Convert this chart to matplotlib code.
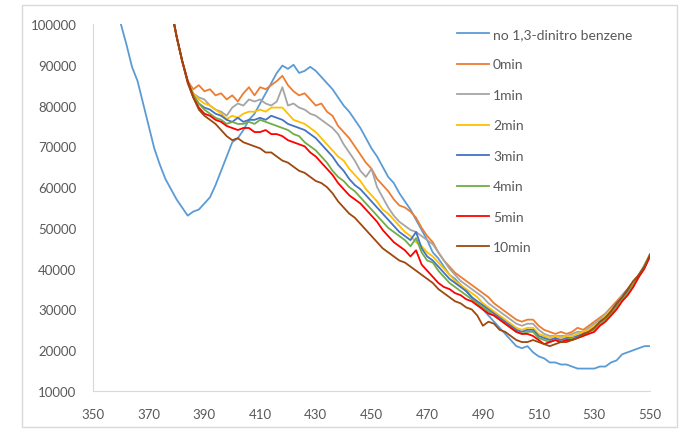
import numpy as np
import matplotlib.pyplot as plt
from matplotlib.patches import Rectangle

# wavelength grids (nm)
wl_ref = np.arange(360, 551, 2)
wl = np.arange(378, 551, 2)

# intensity in thousands
no_dnb = [100, 95, 89.5, 86, 80.5, 75, 69.5, 65.5, 62, 59.5,
          57, 55, 53, 54, 54.5, 56, 57.5, 60.5, 64, 67.5,
          71, 72, 74, 76.5, 78, 80.5, 83, 85.5, 88, 89.8,
          89, 90, 88, 88.5, 89.5, 88.5, 87, 85.5, 84, 82,
          80, 78.5, 76.5, 74.5, 72, 69.5, 67.5, 65, 62.5, 61,
          58.5, 56.5, 54.5, 52, 49.5, 47, 44, 42.5, 40.5, 38.5,
          37.5, 36, 34.5, 33, 31.5, 30, 28.5, 27, 25.5, 24,
          22.5, 21, 20.5, 21, 19.5, 18.5, 18, 17, 17, 16.5,
          16.5, 16, 15.5, 15.5, 15.5, 15.5, 16, 16, 17, 17.5,
          19, 19.5, 20, 20.5, 21, 21]

min0 = [104, 97, 91, 86, 84, 85, 83.5, 84, 82.5, 83,
        81.5, 82.5, 81, 83, 84.5, 82.5, 84.5, 84, 85, 86,
        87.3, 85, 83.5, 82.5, 83, 81.5, 80, 80.5, 78.5, 77.5,
        75, 73.5, 72, 70, 68, 66, 64.5, 62, 60.5, 59,
        57, 55.5, 55, 54, 52.5, 50, 48, 46.5, 44, 42,
        40.5, 39, 38, 37, 36, 35, 34, 33, 31.5, 30.5,
        29.5, 28.5, 27.5, 27, 27.5, 27.5, 26, 25, 24.5, 24,
        24.5, 24, 24.5, 25.5, 25, 26, 27, 28, 29, 30.5,
        32, 33.5, 35, 36.5, 38.5, 40.5, 43.5]

min1 = [104, 97, 91, 86, 83, 82, 81.5, 80, 79, 78.5,
        77.5, 79.5, 80.5, 80, 81.5, 81, 81.5, 80.5, 80, 81,
        84.5, 80, 80.5, 79.5, 79, 78, 77.5, 76.5, 75.5, 74.5,
        73, 70.5, 68.5, 66.5, 64, 62.5, 64.5, 60, 57.5, 55,
        53, 51.5, 50.5, 49.5, 49, 48, 47, 46, 44, 42,
        40, 38.5, 37, 36, 35, 34, 33, 31.5, 30.5, 29.5,
        28.5, 27.5, 26.5, 26, 26.5, 26.5, 25, 24, 23.5, 23.5,
        23.5, 23.5, 24, 24.5, 24.5, 25.5, 26.5, 27.5, 29, 30,
        31.5, 33.5, 35, 36.5, 38.5, 41, 43.5]

min2 = [104, 97, 91, 86, 83, 81.5, 80.5, 80, 79, 78,
        76.7, 77.5, 77, 78, 78.5, 78.5, 79, 78.5, 79.5, 79.5,
        79.5, 78, 76.5, 76, 75.5, 74.5, 73.5, 72, 70.5, 69,
        67.5, 66.5, 64.5, 63, 61.5, 59.5, 58, 56.5, 54.5, 53.5,
        52, 50.5, 49, 48, 46.5, 45.5, 44, 43, 41.5, 40,
        38.5, 37, 36, 35, 34, 33, 31.5, 30.5, 29.5, 28.5,
        27.5, 26.5, 25.5, 25, 25.5, 25.5, 24, 23.5, 23, 23.5,
        23, 23.5, 23.5, 24, 24.5, 25, 26, 27, 28.5, 30,
        31, 33, 34.5, 36.5, 38.5, 40.5, 43.5]

min3 = [104, 97, 91, 86, 82.5, 80.5, 79.5, 79, 78, 77.5,
        76.5, 76, 77, 76, 76.5, 76.5, 77, 76.5, 77.5, 77,
        76.5, 75.5, 75, 74.5, 74, 73, 72, 70.5, 69, 67.5,
        65.5, 64, 62, 60.5, 59.5, 58, 56.5, 55, 53.5, 52,
        50.5, 49, 48, 47, 49, 45, 43, 42, 40.5, 39,
        37.5, 36.5, 35.5, 34.5, 33, 32, 31, 30, 29, 28,
        27, 26, 25, 24.5, 25, 25, 23.5, 23, 22.5, 23,
        22.5, 23, 23, 23.5, 24, 24.5, 25.5, 26.5, 28, 29.5,
        31, 32.5, 34.5, 36, 38.5, 40.5, 43]

min4 = [104, 97, 91, 86, 82.5, 80.5, 79, 78, 77, 76.5,
        75.5, 76, 75.5, 75.5, 76, 75.5, 76.5, 76, 75.5, 75,
        74.5, 74, 73, 72.5, 71, 70, 69, 67.5, 66, 64,
        62.5, 61.5, 60, 59, 57.5, 56, 54.5, 53, 51.5, 50,
        49, 48, 47, 45.5, 47.5, 44, 42, 41.5, 39.5, 38,
        36.5, 35.5, 34.5, 33.5, 32.5, 31.5, 30.5, 29.5, 28.5, 27.5,
        26.5, 25.5, 24.5, 24, 24.5, 24.5, 23, 22.5, 22, 22.5,
        22, 22.5, 23, 23, 23.5, 24.5, 25, 26.5, 27.5, 29,
        30.5, 32.5, 34, 36, 38, 40.5, 43]

min5 = [104, 97, 91, 86, 82, 79.5, 78, 77.5, 76.5, 76,
        75, 74.5, 74, 74.5, 74.5, 73.5, 73.5, 74, 73, 73,
        72.5, 71.5, 71, 70.5, 70, 68.5, 67.5, 66, 64.5, 63,
        61, 59.5, 58, 57, 56, 54.5, 53, 51.5, 49.5, 48,
        46.5, 45.5, 44.5, 43, 44.5, 41, 39.5, 38, 36.5, 35.5,
        35, 34, 33.5, 32.5, 32, 31, 30, 29, 28.5, 27.5,
        26.5, 25.5, 24.5, 24, 24, 23.5, 22.5, 21.5, 22, 22.5,
        22, 22.5, 22.5, 23, 23.5, 24, 24.5, 26, 27, 28.5,
        30, 32, 33.5, 35.5, 38, 40, 43]

min10 = [104, 97, 91, 85.5, 82, 79, 77.5, 76.5, 75.5, 74,
         72.5, 71.5, 72, 71, 70.5, 70, 69.5, 68.5, 68.5, 67.5,
         66.5, 66, 65, 64, 63.5, 62.5, 61.5, 61, 60, 58.5,
         56.5, 55, 53.5, 52.5, 51, 49.5, 48, 46.5, 45, 44,
         43, 42, 41.5, 40.5, 39.5, 38.5, 37.5, 36.5, 35, 34,
         33, 32, 31.5, 30.5, 30, 28.5, 26, 27, 26.5, 25,
         24.5, 23.5, 22.5, 22, 22, 22.5, 22, 21.5, 21, 21.5,
         22, 22, 22.5, 23, 24, 24.5, 25.5, 27, 28, 29.5,
         31.5, 33, 35, 37, 38.5, 40.5, 43.5]

labels = ['no 1,3-dinitro benzene', '0min', '1min', '2min', '3min',
          '4min', '5min', '10min']
colors = ['#5B9BD5', '#ED7D31', '#A5A5A5', '#FFC000', '#4472C4',
          '#70AD47', '#FF0000', '#9E480E']

plt.rcParams['font.family'] = ['Lato', 'DejaVu Sans']
txt = '#595959'

fig = plt.figure(figsize=(6.82, 4.31), dpi=100)
ax = fig.add_axes([93/682, 1 - 392/431, 557/682, 367/431])

# outer chart frame
fig.patches.append(Rectangle((22/682, 1 - 428/431), 655/682, 422/431,
                             transform=fig.transFigure, fill=False,
                             edgecolor='#D9D9D9', linewidth=1))

series = [no_dnb, min0, min1, min2, min3, min4, min5, min10]
for i, ys in enumerate(series):
    xs = wl_ref if i == 0 else wl
    ax.plot(xs, np.array(ys) * 1000, color=colors[i], lw=1.3, label=labels[i])

ax.set_xlim(350, 550)
ax.set_ylim(10000, 100000)
ax.set_xticks(range(350, 551, 20))
ax.set_yticks(range(10000, 100001, 10000))
ax.tick_params(length=0, labelsize=9.5, colors=txt, pad=12)
for s in ['top', 'right']:
    ax.spines[s].set_visible(False)
for s in ['left', 'bottom']:
    ax.spines[s].set_color('#D9D9D9')

ax.legend(loc='upper left', bbox_to_anchor=(457/682, 1 - 29/431),
          bbox_transform=fig.transFigure, frameon=False, fontsize=10,
          handlelength=2.3, handletextpad=0.3, labelspacing=1.33,
          borderpad=0, borderaxespad=0, labelcolor=txt)

fig.savefig('out.png', dpi=100)
